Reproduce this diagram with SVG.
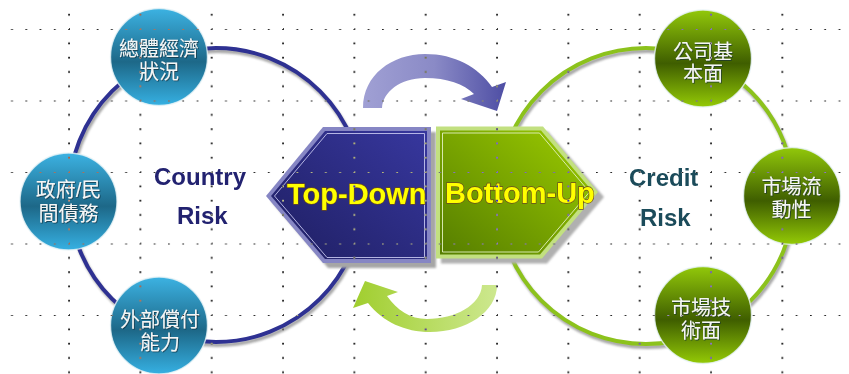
<svg xmlns="http://www.w3.org/2000/svg" width="849" height="374" viewBox="0 0 849 374">
<defs>
<style>
.nodeText { font-family: 'Liberation Sans','Noto Sans CJK TC','Noto Sans CJK SC',sans-serif; font-size:20px; fill:#f4f6f6; text-anchor:middle; }
.risk { font-family:'Liberation Sans',Arial,sans-serif; font-weight:bold; font-size:24px; stroke:#ffffff; stroke-width:1.2; paint-order:stroke; }
.hexText { font-family:'Liberation Sans',Arial,sans-serif; font-weight:bold; font-size:29px; fill:#ffff00; stroke:#6b4a1e; stroke-width:1.3; paint-order:stroke; }
.ring { fill:none; stroke-width:4; }
.ringShadow { fill:none; stroke:#8a8a8a; stroke-width:4; opacity:0.75; }
.nodeEdge { stroke:#e6f2f6; stroke-width:1.4; stroke-opacity:0.8; }
.dot { fill:#ffffff; }
</style>
<linearGradient id="gBlueNode" x1="0" y1="0" x2="0" y2="1">
<stop offset="0" stop-color="#3cb2e2"/>
<stop offset="0.55" stop-color="#1d6888"/>
<stop offset="1" stop-color="#36b0e2"/>
</linearGradient>
<linearGradient id="gGreenNode" x1="0" y1="0" x2="0" y2="1">
<stop offset="0" stop-color="#92c80a"/>
<stop offset="0.55" stop-color="#3f5e00"/>
<stop offset="1" stop-color="#94ca06"/>
</linearGradient>
<linearGradient id="gBlueHex" x1="0" y1="1" x2="1" y2="0">
<stop offset="0" stop-color="#1f1f62"/>
<stop offset="1" stop-color="#37379e"/>
</linearGradient>
<linearGradient id="gGreenHex" x1="0" y1="1" x2="1" y2="0">
<stop offset="0" stop-color="#567e00"/>
<stop offset="1" stop-color="#9ccc00"/>
</linearGradient>
<linearGradient id="gTopArrow" x1="363" y1="0" x2="506" y2="0" gradientUnits="userSpaceOnUse">
<stop offset="0" stop-color="#a0a0d4"/>
<stop offset="0.5" stop-color="#8a8ac6"/>
<stop offset="1" stop-color="#4e4ea4"/>
</linearGradient>
<linearGradient id="gBotArrow" x1="353" y1="0" x2="497" y2="0" gradientUnits="userSpaceOnUse">
<stop offset="0" stop-color="#a0ce2e"/>
<stop offset="1" stop-color="#cde88f"/>
</linearGradient>
<filter id="blur1" x="-10%" y="-10%" width="120%" height="120%"><feGaussianBlur stdDeviation="1"/></filter>
<filter id="txtShadow" x="-10%" y="-20%" width="130%" height="150%"><feDropShadow dx="0.8" dy="0.8" stdDeviation="0.4" flood-color="#0b2a38" flood-opacity="0.8"/></filter>
<pattern id="grid" patternUnits="userSpaceOnUse" x="-2.33" y="-42.5" width="71.33" height="71.5">
<rect class="dot" x="-0.8" y="-0.8" width="1.7" height="1.7"/>
<rect class="dot" x="13.47" y="-0.8" width="1.7" height="1.7"/>
<rect class="dot" x="27.73" y="-0.8" width="1.7" height="1.7"/>
<rect class="dot" x="42" y="-0.8" width="1.7" height="1.7"/>
<rect class="dot" x="56.27" y="-0.8" width="1.7" height="1.7"/>
<rect class="dot" x="70.53" y="-0.8" width="1.7" height="1.7"/>
<rect class="dot" x="-0.8" y="13.5" width="1.7" height="1.7"/>
<rect class="dot" x="-0.8" y="27.8" width="1.7" height="1.7"/>
<rect class="dot" x="-0.8" y="42.1" width="1.7" height="1.7"/>
<rect class="dot" x="-0.8" y="56.4" width="1.7" height="1.7"/>
<rect class="dot" x="-0.8" y="70.7" width="1.7" height="1.7"/>
<rect class="dot" x="70.53" y="13.5" width="1.7" height="1.7"/>
<rect class="dot" x="70.53" y="27.8" width="1.7" height="1.7"/>
<rect class="dot" x="70.53" y="42.1" width="1.7" height="1.7"/>
<rect class="dot" x="70.53" y="56.4" width="1.7" height="1.7"/>
</pattern>
</defs>

<rect x="0" y="0" width="849" height="374" fill="#ffffff"/>

<g id="connectors">
<circle class="ringShadow" cx="217.5" cy="198" r="147" filter="url(#blur1)"/>
<circle class="ring" cx="216" cy="195" r="147" stroke="#2e3192"/>
<circle class="ringShadow" cx="647.5" cy="199" r="148" filter="url(#blur1)"/>
<circle class="ring" cx="646" cy="196" r="148" stroke="#8cc21c" stroke-width="4.5"/>
<path id="arrow-top" fill="url(#gTopArrow)" d="M363,108 C363,75 392,54 425,54 C455,54 478,67 492,87 L506,82 L497,111 L461,99 L474,94 C464,84 447,78 425,78 C400,78 383,92 382,108 Z"/>
<path id="arrow-bottom" fill="url(#gBotArrow)" d="M497,285 C497,312 466,332 430,332 C405,332 383,322 368,303 L353,308 L365,281 L398,292 L387,296 C397,310 410,319 427,319 C455,319 481,305 482,285 Z"/>
</g>

<g id="top-down">
<polygon points="271,201 328,132 436,132 436,268 328,268" fill="#a6a6a6" filter="url(#blur1)"/>
<polygon points="266,196 323,127 431,127 431,263 323,263" fill="#8686c4"/>
<polygon points="271,196 325,131 427,131 427,259 325,259" fill="url(#gBlueHex)"/>
<polygon points="274.5,196 327,133.5 424.5,133.5 424.5,257.5 327,257.5" fill="none" stroke="#c4c4ee" stroke-width="0.9"/>
<text class="hexText" x="287" y="204">Top-Down</text>
</g>

<g id="bottom-up">
<polygon points="441,131.5 548,131.5 604,197 547,263.5 441,263.5" fill="#b0b0b0" filter="url(#blur1)"/>
<polygon points="436,126.5 543,126.5 598,192 542,258.5 436,258.5" fill="#c2e080"/>
<polygon points="440,130.5 541,130.5 593,192 540,254.5 440,254.5" fill="url(#gGreenHex)"/>
<polygon points="442.5,133 539.5,133 589.5,192 538.5,252 442.5,252" fill="none" stroke="#e2f2c0" stroke-width="0.9"/>
<text class="hexText" x="445" y="203">Bottom-Up</text>
</g>

<g id="country-risk">
<text class="risk" x="154" y="185" fill="#222270">Country</text>
<text class="risk" x="177" y="224" fill="#222270">Risk</text>
</g>

<g id="credit-risk">
<text class="risk" x="629" y="186" fill="#1b4b5a">Credit</text>
<text class="risk" x="640" y="226" fill="#1b4b5a">Risk</text>
</g>

<g id="node-macro">
<circle class="nodeEdge" cx="159" cy="57" r="48.5" fill="url(#gBlueNode)"/>
<text class="nodeText" filter="url(#txtShadow)"><tspan x="159" y="56">總體經濟</tspan><tspan x="159" y="79">狀況</tspan></text>
</g>

<g id="node-debt">
<circle class="nodeEdge" cx="68.5" cy="201.5" r="48.5" fill="url(#gBlueNode)"/>
<text class="nodeText" filter="url(#txtShadow)"><tspan x="68.5" y="197">政府/民</tspan><tspan x="68.5" y="221">間債務</tspan></text>
</g>

<g id="node-external">
<circle class="nodeEdge" cx="159" cy="325.5" r="48.5" fill="url(#gBlueNode)"/>
<text class="nodeText" filter="url(#txtShadow)"><tspan x="160" y="327">外部償付</tspan><tspan x="160" y="350">能力</tspan></text>
</g>

<g id="node-fundamental">
<circle class="nodeEdge" cx="703" cy="58.5" r="48.5" fill="url(#gGreenNode)"/>
<text class="nodeText" filter="url(#txtShadow)"><tspan x="703" y="58.5">公司基</tspan><tspan x="703" y="81">本面</tspan></text>
</g>

<g id="node-liquidity">
<circle class="nodeEdge" cx="792" cy="196" r="48.5" fill="url(#gGreenNode)"/>
<text class="nodeText" filter="url(#txtShadow)"><tspan x="791.5" y="193.5">市場流</tspan><tspan x="791.5" y="217">動性</tspan></text>
</g>

<g id="node-technical">
<circle class="nodeEdge" cx="703" cy="315" r="48.5" fill="url(#gGreenNode)"/>
<text class="nodeText" filter="url(#txtShadow)"><tspan x="701" y="314.5">市場技</tspan><tspan x="701" y="338">術面</tspan></text>
</g>

<rect x="10" y="13" width="832" height="361" fill="url(#grid)" style="mix-blend-mode:difference"/>
</svg>
